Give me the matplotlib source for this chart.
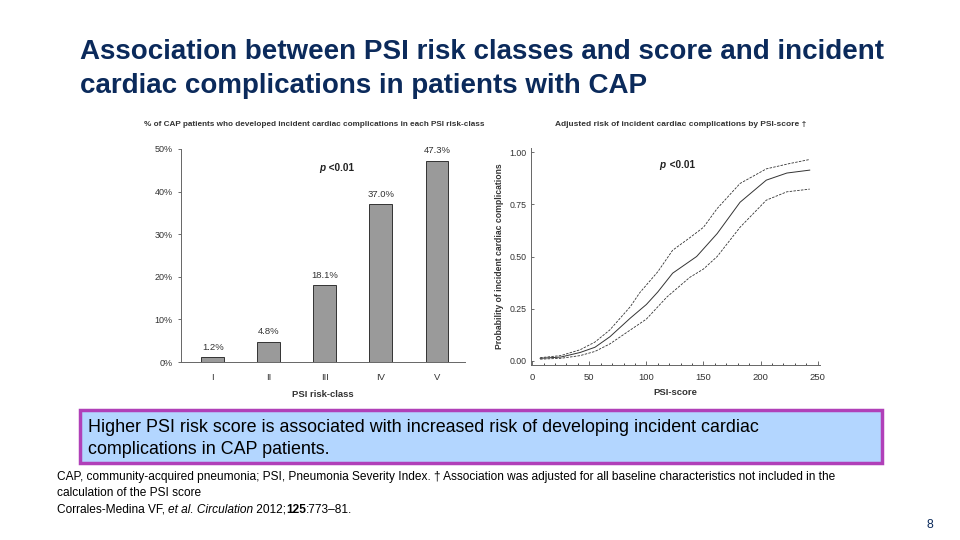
import matplotlib
matplotlib.use("Agg")
import matplotlib.pyplot as plt
from matplotlib.patches import Rectangle
import numpy as np

plt.rcParams['font.family'] = ['Liberation Sans', 'DejaVu Sans']

# Left chart data
classes = ["I", "II", "III", "IV", "V"]
pct = [1.2, 4.8, 18.1, 37.0, 47.3]
pct_labels = ["1.2%", "4.8%", "18.1%", "37.0%", "47.3%"]
left_yticks = [0, 10, 20, 30, 40, 50]
left_yticklabels = ["0%", "10%", "20%", "30%", "40%", "50%"]

# Right chart data
mid_x = [7, 25, 42, 55, 68, 86, 100, 110, 123, 144, 162, 182, 205, 223, 243]
mid_y = [0.012, 0.018, 0.040, 0.065, 0.115, 0.205, 0.270, 0.330, 0.420, 0.500, 0.610, 0.760, 0.866, 0.900, 0.914]
up_x = [7, 25, 42, 55, 68, 86, 94, 110, 123, 138, 150, 162, 182, 205, 225, 243]
up_y = [0.015, 0.025, 0.053, 0.090, 0.148, 0.260, 0.325, 0.427, 0.530, 0.590, 0.640, 0.730, 0.850, 0.920, 0.945, 0.965]
lo_x = [7, 25, 42, 55, 68, 86, 100, 118, 138, 150, 162, 182, 205, 223, 243]
lo_y = [0.008, 0.012, 0.025, 0.045, 0.081, 0.148, 0.200, 0.306, 0.400, 0.440, 0.500, 0.640, 0.770, 0.810, 0.823]
right_yticks = [0.0, 0.25, 0.5, 0.75, 1.0]
right_yticklabels = ["0.00", "0.25", "0.50", "0.75", "1.00"]
right_xticks = [0, 50, 100, 150, 200, 250]

W, H = 960, 540
fig = plt.figure(figsize=(9.6, 5.4), dpi=100)
fig.patch.set_facecolor("white")

def fx(px):
    return px / W

def fy(py):
    return 1 - py / H

navy = "#0B2A5B"

# Title
fig.text(fx(80), fy(52), "Association between PSI risk classes and score and incident",
         fontsize=20, fontweight="bold", color=navy, va="center", ha="left")
fig.text(fx(80), fy(86), "cardiac complications in patients with CAP",
         fontsize=20, fontweight="bold", color=navy, va="center", ha="left")

# Left chart
axL = fig.add_axes([fx(181), fy(362), fx(465 - 181), (362 - 149) / H])
xpos = np.arange(len(classes))
axL.bar(xpos, pct, width=0.41, color="#9a9a9a", edgecolor="#333333", linewidth=0.7)
for x, v, lab in zip(xpos, pct, pct_labels):
    axL.text(x, v + 1.2, lab, ha="center", va="bottom", fontsize=6.8, color="#333333")
axL.set_xlim(-0.57, 4.5)
axL.set_ylim(0, 50)
axL.set_yticks(left_yticks)
axL.set_yticklabels(left_yticklabels, fontsize=6.5, color="#333333")
axL.set_xticks(xpos)
axL.set_xticklabels(classes, fontsize=6.8, color="#333333")
axL.tick_params(axis="both", length=2, width=0.6, color="#555555", pad=4)
axL.tick_params(axis="x", length=0, pad=8)
for s in ["top", "right"]:
    axL.spines[s].set_visible(False)
for s in ["left", "bottom"]:
    axL.spines[s].set_color("#666666")
    axL.spines[s].set_linewidth(0.7)
axL.text(2, 45.5, "p", fontsize=7.2, fontweight="bold", style="italic", ha="right", va="center", color="#222222")
axL.text(2.02, 45.5, " <0.01", fontsize=7.2, fontweight="bold", ha="left", va="center", color="#222222")
axL.set_xlabel("PSI risk-class", fontsize=6.8, fontweight="bold", color="#333333", labelpad=6)
fig.text(fx(314), fy(124), "% of CAP patients who developed incident cardiac complications in each PSI risk-class",
         fontsize=5.85, fontweight="bold", color="#333333", ha="center", va="center")

# Right chart
axR = fig.add_axes([fx(531), fy(365), fx(820 - 531), (365 - 148) / H])
axR.plot(mid_x, mid_y, color="#333333", linewidth=0.7)
axR.plot(up_x, up_y, color="#333333", linewidth=0.6, linestyle=(0, (3, 1.5)))
axR.plot(lo_x, lo_y, color="#333333", linewidth=0.6, linestyle=(0, (3, 1.5)))
axR.set_xlim(-1, 252)
axR.set_ylim(-0.02, 1.02)
axR.set_yticks(right_yticks)
axR.set_yticklabels(right_yticklabels, fontsize=6.3, color="#333333")
axR.set_xticks(right_xticks)
axR.set_xticklabels([str(t) for t in right_xticks], fontsize=6.8, color="#333333")
axR.set_xticks(np.arange(0, 251, 10), minor=True)
axR.tick_params(axis="both", length=2, width=0.6, color="#555555", pad=3)
axR.tick_params(axis="x", which="major", length=3, direction="in", pad=6)
axR.tick_params(axis="x", which="minor", length=1.5, direction="in", width=0.5)
axR.tick_params(axis="y", direction="in")
for s in ["top", "right"]:
    axR.spines[s].set_visible(False)
for s in ["left", "bottom"]:
    axR.spines[s].set_color("#666666")
    axR.spines[s].set_linewidth(0.7)
axR.text(117, 0.94, "p", fontsize=7.2, fontweight="bold", style="italic", ha="right", va="center", color="#222222")
axR.text(118, 0.94, " <0.01", fontsize=7.2, fontweight="bold", ha="left", va="center", color="#222222")
axR.set_xlabel("PSI-score", fontsize=6.8, fontweight="bold", color="#333333", labelpad=4)
axR.set_ylabel("Probability of incident cardiac complications", fontsize=6.2, fontweight="bold",
               color="#333333", labelpad=4)
fig.text(fx(681), fy(124), "Adjusted risk of incident cardiac complications by PSI-score \u2020",
         fontsize=6.0, fontweight="bold", color="#333333", ha="center", va="center")

# Key message box
box = Rectangle((fx(80), fy(463)), fx(882 - 80), (463 - 410) / H, transform=fig.transFigure,
                facecolor="#B3D6FF", edgecolor="#B040B8", linewidth=2.5)
fig.add_artist(box)
fig.text(fx(88), fy(427), "Higher PSI risk score is associated with increased risk of developing incident cardiac",
         fontsize=12.9, color="black", va="center", ha="left")
fig.text(fx(88), fy(449), "complications in CAP patients.",
         fontsize=12.9, color="black", va="center", ha="left")

# Footnotes
foot_font = ['Liberation Sans', 'DejaVu Sans']
fs = 8.6
fig.text(fx(57), fy(477), "CAP, community-acquired pneumonia; PSI, Pneumonia Severity Index. \u2020 Association was adjusted for all baseline characteristics not included in the",
         fontsize=fs, family=foot_font, va="center", ha="left", color="black")
fig.text(fx(57), fy(493), "calculation of the PSI score",
         fontsize=fs, family=foot_font, va="center", ha="left", color="black")
t1 = fig.text(fx(57), fy(510), "Corrales-Medina VF, ", fontsize=fs, family=foot_font, va="center", ha="left")
fig.canvas.draw()
r = fig.canvas.get_renderer()
def nxt(t, s, **kw):
    bb = t.get_window_extent(renderer=r)
    return fig.text(bb.x1 / W, fy(510), s, fontsize=fs, family=foot_font, va="center", ha="left", **kw)
t2 = nxt(t1, "et al. Circulation", style="italic")
t3 = nxt(t2, " 2012;")
t4 = nxt(t3, "125", fontweight="bold")
t5 = nxt(t4, ":773\u201381.")

fig.text(fx(930), fy(525), "8", fontsize=8.7, color=navy, family=foot_font, ha="center", va="center")

fig.savefig("out.png", dpi=100)
